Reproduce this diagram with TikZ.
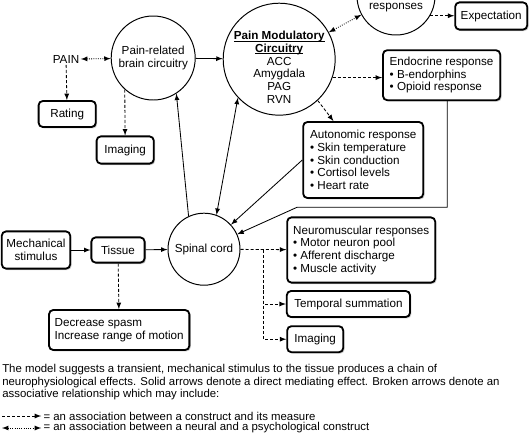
\documentclass[tikz,border=0pt]{standalone}
\usepackage{fontspec}
\setmainfont{Liberation Sans}
\usetikzlibrary{shadows}
\tikzset{measurebox/.style={draw,rectangle,rounded corners=3pt,line width=1.3pt,fill=white,drop shadow={shadow xshift=1pt,shadow yshift=-1pt,fill=black!40}}}
\newcommand{\region}[5]{\node[draw,circle,line width=0.7pt,minimum size=#4cm,inner sep=0pt,align=center] (#1) at (#2,#3) {#5};}
\newcommand{\measure}[6]{\node[measurebox,minimum width=#4cm,minimum height=#5cm,align=center] (#1) at (#2,#3) {#6};}
\newcommand{\panel}[6]{\node[measurebox,minimum width=#4cm,minimum height=#5cm,inner xsep=4pt,align=left] (#1) at (#2,#3) {#6};}
\newcommand{\link}[2]{\draw[line width=0.6pt,->,>=latex] (#1) -- (#2);}
\newcommand{\linkMeasure}[2]{\draw[line width=0.6pt,dash pattern=on 2.2pt off 1.4pt,->,>=latex] (#1) -- (#2);}
\newcommand{\linkPsy}[2]{\draw[line width=0.6pt,densely dotted,<->,>=latex] (#1) -- (#2);}
\newcommand{\underlined}[1]{\setbox0\hbox{#1}\rlap{\rule[-1.3pt]{\wd0}{0.6pt}}\box0}

\begin{document}
\begin{tikzpicture}[font=\fontsize{8.3}{9}\selectfont]
    \useasboundingbox (0,0) rectangle (13.25,-11.05);
    \node[inner sep=1pt] (PAIN) at (1.65,-1.48) {PAIN};
    \region{brain}{3.83}{-1.45}{2.1}{Pain-related\\brain circuitry}
    \measure{rating}{1.68}{-2.85}{1.43}{0.65}{Rating}
    \measure{imgA}{3.13}{-3.75}{1.43}{0.68}{Imaging}
    \region{painmod}{6.98}{-1.48}{2.8}{}
    \node[align=center,inner sep=0pt] (painmodtext) at (6.98,-1.68) {\underlined{\textbf{Pain Modulatory}}\\\underlined{\textbf{Circuitry}}\\ACC\\Amygdala\\PAG\\RVN};
    \region{resp}{9.9}{0.1}{1.95}{} \node (resptext) at (9.9,-0.19) {responses};
    \measure{expect}{12.28}{-0.4}{1.8}{0.68}{Expectation}
    \panel{endo}{11.04}{-1.88}{2.93}{1.25}{Endocrine response\\• B-endorphins\\• Opioid response}
    \panel{auto}{9.08}{-4.0}{3.0}{1.9}{Autonomic response\\• Skin temperature\\• Skin conduction\\• Cortisol levels\\• Heart rate}
    \region{spinal}{5.1}{-6.23}{1.8}{Spinal cord}
    \measure{mech}{0.9}{-6.25}{1.7}{0.93}{Mechanical\\stimulus}
    \measure{tissue}{2.95}{-6.25}{1.33}{0.63}{Tissue}
    \panel{decr}{2.98}{-8.25}{3.5}{1.0}{Decrease spasm\\Increase range of motion}
    \panel{neuro}{9.03}{-6.25}{3.7}{1.63}{Neuromuscular responses\\• Motor neuron pool\\• Afferent discharge\\• Muscle activity}
    \measure{temp}{8.71}{-7.6}{3.08}{0.65}{Temporal summation}
    \measure{imgB}{7.88}{-8.48}{1.4}{0.65}{Imaging}
    \coordinate (bend) at (7.43,-5.18); \coordinate (branch) at (6.58,-6.25);

    \linkPsy{PAIN}{brain} \linkMeasure{PAIN}{rating} \linkMeasure{brain.228}{imgA}
    \link{brain}{painmod} \linkPsy{painmod}{resp}
    \linkMeasure{resp.-30}{resp.-30 -| expect.west}
    \linkMeasure{painmod.-19}{painmod.-19 -| endo.west} \linkMeasure{painmod.-47}{auto}
    \link{auto.west}{spinal}
    \draw[line width=0.6pt,->,>=latex] ([xshift=0.14cm]endo.south) |- (bend) -- (spinal);
    \draw[line width=0.6pt,<->,>=latex] (spinal.70) -- (painmod.223);
    \link{spinal.115}{brain.-57}
    \link{mech}{tissue} \link{tissue}{spinal} \linkMeasure{tissue}{decr}
    \linkMeasure{spinal}{neuro}
    \draw[line width=0.6pt,dash pattern=on 2.2pt off 1.4pt,->,>=latex] (branch) |- (temp.west);
    \draw[line width=0.6pt,dash pattern=on 2.2pt off 1.4pt,->,>=latex] (branch) |- (imgB.west);

    \begin{scope}[font=\fontsize{8.1}{8.9}\selectfont]
    \node[anchor=north west,inner sep=0pt,align=left] (caption) at (0.05,-9.11) {The model suggests a transient, mechanical stimulus to the tissue produces a chain of\\neurophysiological effects. Solid arrows denote a direct mediating effect. Broken arrows denote an\\associative relationship which may include:};
    \coordinate (keyA) at (0.05,-10.4); \coordinate (keyB) at (0.05,-10.7);
    \node[anchor=west,inner sep=1.5pt] (legendA) at (1.03,-10.4) {= an association between a construct and its measure};
    \node[anchor=west,inner sep=1.5pt] (legendB) at (1.03,-10.7) {= an association between a neural and a psychological construct};
    \linkMeasure{keyA}{legendA} \linkPsy{keyB}{legendB}
    \end{scope}
\end{tikzpicture}
\end{document}
